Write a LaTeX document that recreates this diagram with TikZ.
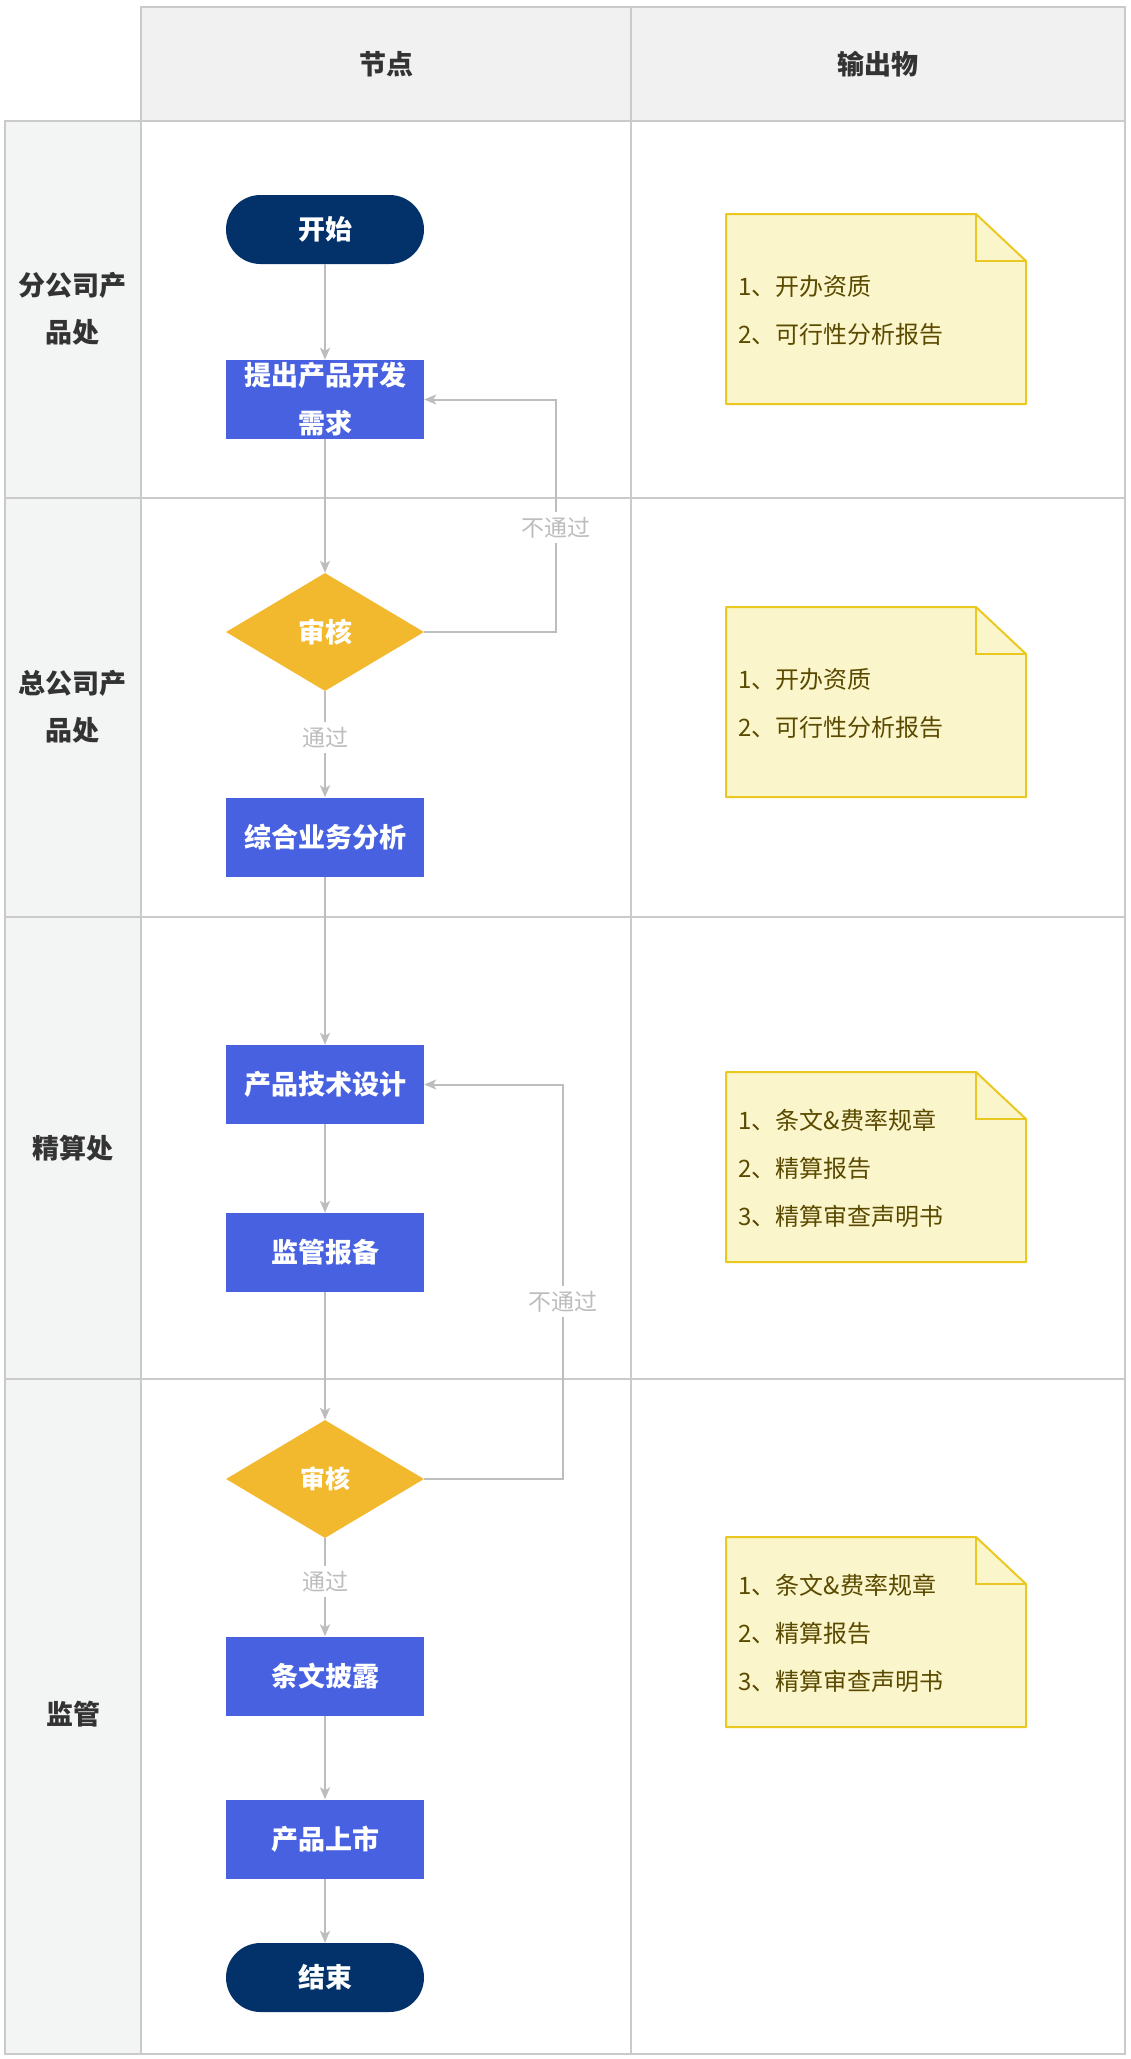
\documentclass[tikz,border=0pt]{standalone}
\usepackage{fontspec}
\setmainfont{Noto Sans CJK SC}
\usepackage{xcolor}
\usetikzlibrary{shapes.geometric, arrows.meta, positioning}

\definecolor{gridgray}{HTML}{CACACA}
\definecolor{headgray}{HTML}{F0F1F0}
\definecolor{sidegray}{HTML}{F3F4F4}
\definecolor{procblue}{HTML}{4761E0}
\definecolor{navy}{HTML}{03326B}
\definecolor{checkyellow}{HTML}{F2B92F}
\definecolor{flowgray}{HTML}{BDBDBD}
\definecolor{notefill}{HTML}{FBF5CB}
\definecolor{noteline}{HTML}{EBC820}
\definecolor{noteink}{HTML}{5A4A00}
\definecolor{laneink}{HTML}{333333}

\begin{document}
\begin{tikzpicture}[x=1pt, y=-1pt,
  grid/.style={draw=gridgray, line width=2pt},
  box/.style={rectangle, fill=procblue, text=white, font=\fontsize{27}{48}\selectfont\bfseries,
    minimum width=198pt, minimum height=79pt, inner sep=0pt, align=center},
  term/.style={box, fill=navy, rounded corners=34.5pt, minimum height=69pt},
  check/.style={diamond, fill=checkyellow, text=white, font=\fontsize{27}{32}\selectfont\bfseries,
    minimum width=198pt, minimum height=118pt, inner sep=0pt},
  flow/.style={draw=flowgray, line width=2pt, -{Stealth[length=12pt, width=10pt, inset=3pt]}},
  lbl/.style={fill=white, text=flowgray, font=\fontsize{23}{28}\selectfont, inner sep=5pt},
  lanetext/.style={text=laneink, align=center, font=\fontsize{27}{47}\selectfont\bfseries},
  note/.style={fill=notefill, draw=noteline, line width=2pt, line join=round},
  notetext/.style={anchor=west, align=left, text=noteink, font=\fontsize{24}{48}\selectfont}]
  \useasboundingbox (0,0) rectangle (1130,2059);

  % Header and lanes
  \fill[headgray] (141,7) rectangle (1125,121);
  \fill[sidegray] (5,121) rectangle (141,2054);
  \draw[grid] (141,7) rectangle (1125,121);
  \draw[grid] (5,121) rectangle (1125,2054);
  \draw[grid] (141,121) -- (141,2054);
  \draw[grid] (631,7) -- (631,2054);
  \foreach \y in {498,917,1379} {
    \draw[grid] (5,\y) -- (1125,\y);
  }
  \node[lanetext] (colnode) at (386,64) {节点};
  \node[lanetext] (colout) at (878,64) {输出物};

  % Lane names
  \foreach \txt/\y [count=\i] in {分公司产\\品处/309, 总公司产\\品处/707, 精算处/1148, 监管/1714} {
    \node[lanetext] (lane\i) at (73,\y) {\txt};
  }

  % Flow nodes
  \node[term] (start) at (325,229.5) {开始};
  \node[box] (req) at (325,399.5) {提出产品开发\\需求};
  \node[check] (chk1) at (325,632) {审核};
  \node[box] (ana) at (325,837) {综合业务分析};
  \node[box] (design) at (325,1084.5) {产品技术设计};
  \node[box] (filing) at (325,1252.5) {监管报备};
  \node[check, font=\fontsize{25}{30}\selectfont\bfseries] (chk2) at (325,1479) {审核};
  \node[box] (disclose) at (325,1676) {条文披露};
  \node[box] (market) at (325,1839) {产品上市};
  \node[term] (finish) at (325,1977.5) {结束};

  % Arrows
  \draw[flow] (start) -- (req);
  \draw[flow] (req) -- (chk1);
  \draw[flow] (chk1) -- node[lbl, pos=0.44] {通过} (ana);
  \draw[flow] (ana) -- (design);
  \draw[flow] (design) -- (filing);
  \draw[flow] (filing) -- (chk2);
  \draw[flow] (chk2) -- node[lbl, pos=0.44] {通过} (disclose);
  \draw[flow] (disclose) -- (market);
  \draw[flow] (market) -- (finish);

  % Rejections loop back
  \coordinate (backA) at (556,0);
  \coordinate (backB) at (563,0);
  \draw[flow] (chk1.east) -- (chk1.east -| backA)
    -- node[lbl, pos=0.45] {不通过} (req.east -| backA) -- (req.east);
  \draw[flow] (chk2.east) -- (chk2.east -| backB)
    -- node[lbl, pos=0.45] {不通过} (design.east -| backB) -- (design.east);

  % Output notes
  \foreach \ny/\lines [count=\i] in {214/{1、开办资质\\2、可行性分析报告},
      607/{1、开办资质\\2、可行性分析报告},
      1072/{1、条文\&费率规章\\2、精算报告\\3、精算审查声明书},
      1537/{1、条文\&费率规章\\2、精算报告\\3、精算审查声明书}} {
    \draw[note] (726,\ny) -- (976,\ny) -- (1026,\ny+47) -- (1026,\ny+190) -- (726,\ny+190) -- cycle;
    \draw[draw=noteline, line width=2pt] (976,\ny) -- (976,\ny+47) -- (1026,\ny+47);
    \node[notetext] (out\i) at (735,\ny+96) {\lines};
  }
\end{tikzpicture}
\end{document}
